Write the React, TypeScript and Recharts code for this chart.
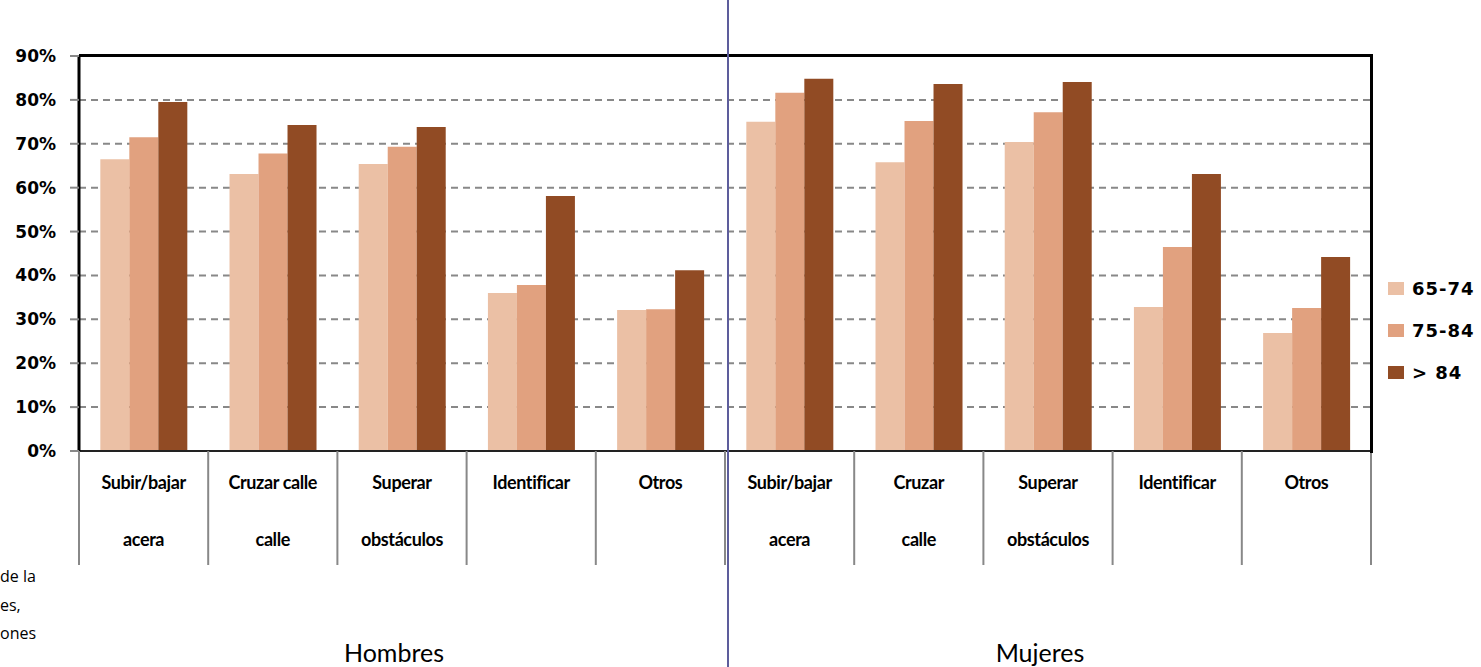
import { BarChart, Bar, XAxis, YAxis, CartesianGrid } from "recharts";

const categories = [
  "Subir/bajar\nacera",
  "Cruzar calle\ncalle",
  "Superar\nobstáculos",
  "Identificar",
  "Otros",
  "Subir/bajar\nacera",
  "Cruzar\ncalle",
  "Superar\nobstáculos",
  "Identificar",
  "Otros",
];
const groups = ["Hombres", "Mujeres"];
const age65_74 = [66.5, 63.1, 65.4, 36.0, 32.1, 75.0, 65.8, 70.4, 32.8, 26.9];
const age75_84 = [71.5, 67.8, 69.3, 37.8, 32.3, 81.6, 75.2, 77.2, 46.5, 32.6];
const age85 = [79.5, 74.3, 73.8, 58.1, 41.2, 84.8, 83.6, 84.1, 63.1, 44.2];
const yTicks = [0, 10, 20, 30, 40, 50, 60, 70, 80, 90];
const seriesNames = ["65-74", "75-84", "> 84"];
const seriesColors = ["#EBC0A5", "#E1A17F", "#914B24"];

const data = categories.map((name, i) => ({
  name,
  a: age65_74[i],
  b: age75_84[i],
  c: age85[i],
}));

const W = 1481;
const H = 667;
const PLOT_LEFT = 79;
const PLOT_RIGHT = 1371;
const PLOT_TOP = 56;
const PLOT_BOTTOM = 451;
const BAND = (PLOT_RIGHT - PLOT_LEFT) / categories.length;

const CategoryTick = ({ x, y, payload, index }: any) => {
  const lines = String(payload.value).split("\n");
  const left = x - BAND / 2;
  const right = x + BAND / 2;
  return (
    <g>
      <line x1={left} y1={y} x2={left} y2={y + 114} stroke="#888" strokeWidth={2} />
      {index === categories.length - 1 && (
        <line x1={right} y1={y} x2={right} y2={y + 114} stroke="#888" strokeWidth={2} />
      )}
      {lines.map((ln, k) => (
        <text
          key={k}
          x={x}
          y={y + 38 + k * 57}
          textAnchor="middle"
          fontFamily="Lato"
          fontWeight="bold"
          fontSize={18}
          letterSpacing={-0.4}
          fill="#000"
        >
          {ln}
        </text>
      ))}
      {index % 5 === 2 && (
        <text
          x={x - 8}
          y={y + 211}
          textAnchor="middle"
          fontFamily="Lato"
          fontSize={25}
          fill="#000"
        >
          {groups[Math.floor(index / 5)]}
        </text>
      )}
    </g>
  );
};

export default function App() {
  return (
    <div
      style={{
        position: "absolute",
        left: 0,
        top: 0,
        width: W,
        height: H,
        background: "#fff",
        overflow: "hidden",
      }}
    >
      <BarChart
        width={W}
        height={H}
        data={data}
        margin={{ top: PLOT_TOP, right: W - PLOT_RIGHT, left: PLOT_LEFT - 60, bottom: H - PLOT_BOTTOM - 114 }}
        barGap={0}
        barCategoryGap="16.5%"
      >
        <CartesianGrid
          horizontal
          vertical={false}
          stroke="#888"
          strokeWidth={2}
          strokeDasharray="7 5"
        />
        <XAxis
          dataKey="name"
          interval={0}
          height={114}
          tickSize={0}
          tickMargin={0}
          tickLine={false}
          axisLine={{ stroke: "#222", strokeWidth: 2 }}
          tick={<CategoryTick />}
        />
        <YAxis
          width={60}
          domain={[0, 90]}
          ticks={yTicks}
          interval={0}
          tickFormatter={(v: number) => `${v}%`}
          tickSize={9}
          tickMargin={14}
          tickLine={{ stroke: "#888", strokeWidth: 2 }}
          axisLine={{ stroke: "#000", strokeWidth: 3 }}
          tick={{ fontFamily: "DejaVu Sans", fontWeight: "bold", fontSize: 17, fill: "#000" }}
        />
        <Bar dataKey="a" name={seriesNames[0]} fill={seriesColors[0]} isAnimationActive={false} />
        <Bar dataKey="b" name={seriesNames[1]} fill={seriesColors[1]} isAnimationActive={false} />
        <Bar dataKey="c" name={seriesNames[2]} fill={seriesColors[2]} isAnimationActive={false} />
      </BarChart>

      {/* plot frame: top and right edges */}
      <div
        style={{
          position: "absolute",
          left: PLOT_LEFT,
          top: PLOT_TOP - 2,
          width: PLOT_RIGHT - PLOT_LEFT - 1,
          height: PLOT_BOTTOM - PLOT_TOP + 1,
          borderTop: "3px solid #000",
          borderRight: "3px solid #000",
          pointerEvents: "none",
        }}
      />

      <div style={{ position: "absolute", left: 1388, top: 267, fontFamily: "DejaVu Sans", fontWeight: "bold", fontSize: 18, letterSpacing: 1 }}>
        {seriesNames.map((n, i) => (
          <div key={n} style={{ display: "flex", alignItems: "center", height: 42, whiteSpace: "nowrap" }}>
            <span style={{ width: 16, height: 13, background: seriesColors[i], marginRight: 8, display: "inline-block" }} />
            {n}
          </div>
        ))}
      </div>

      <div style={{ position: "absolute", left: 727, top: 0, width: 1.5, height: H, background: "#5D5D9C" }} />

      <div style={{ position: "absolute", left: 0, top: 562, fontFamily: "Open Sans", fontSize: 16, lineHeight: "28.5px", color: "#000" }}>
        <div>de la</div>
        <div>es,</div>
        <div>ones</div>
      </div>
    </div>
  );
}
